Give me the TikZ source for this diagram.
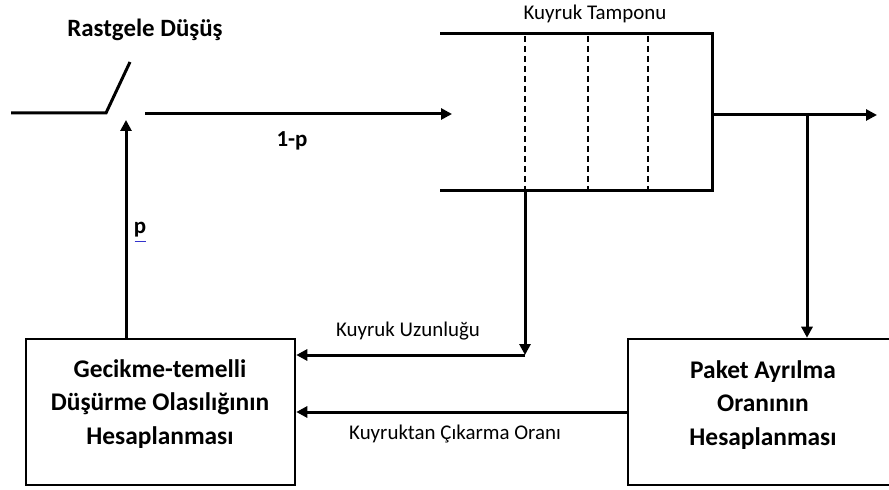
\documentclass[tikz,border=0pt]{standalone}
\usepackage{fontspec}
\setmainfont{Carlito}
\usetikzlibrary{arrows.meta}
\begin{document}
\begin{tikzpicture}[x=1bp,y=-1bp,
  wire/.style={line width=3bp},
  arr/.style={wire,-{Triangle[length=11bp,width=11bp]}},
  slot/.style={line width=1.9bp,dash pattern=on 6bp off 4bp},
  box/.style={draw,line width=2.5bp,minimum width=269bp,minimum height=146bp,inner sep=0},
  btext/.style={font=\fontsize{25.5}{33.5}\selectfont\bfseries,align=center},
  lbl/.style={font=\fontsize{21}{24}\selectfont}]
\useasboundingbox (0,0) rectangle (889,490);

% titles and labels
\node[font=\fontsize{25}{28}\selectfont\bfseries] (title) at (145,30) {Rastgele Düşüş};
\node[lbl] (buf) at (595,14) {Kuyruk Tamponu};
\node[font=\fontsize{23}{26}\selectfont\bfseries] (onep) at (292,141) {1-p};
\node[font=\fontsize{23}{26}\selectfont\bfseries] (plbl) at (140,230) {p};
\draw[blue!60!gray,line width=0.9bp] (134.5,241.5) -- (145.5,241.5);
\node[lbl] (qlen) at (408,331) {Kuyruk Uzunluğu};
\node[lbl] (deq) at (455,434) {Kuyruktan Çıkarma Oranı};

% computation boxes
\node[box] (lbox) at (160.5,412) {};
\node[btext] (ltext) at (160,404) {Gecikme-temelli\\Düşürme Olasılığının\\Hesaplanması};
\node[box,minimum width=272bp] (rbox) at (764,412) {};
\node[btext] (rtext) at (763,405) {Paket Ayrılma\\Oranının\\Hesaplanması};

% random-drop switch
\coordinate (sw0) at (11,113);
\coordinate (sw1) at (106,113);
\coordinate (sw2) at (130,62);
\coordinate (sw3) at (145,114);
\coordinate (qin) at (452,114);
\draw[wire] (sw0) -- (sw1) -- (sw2);
\draw[arr] (sw3) -- (qin);

% queue buffer
\coordinate (qtl) at (441,34);
\coordinate (qtr) at (712,34);
\coordinate (qbr) at (712,191);
\coordinate (qbl) at (441,191);
\draw[wire,line cap=rect] (qtl) -- (qtr) -- (qbr) -- (qbl);
\foreach \x in {525,588,648}
  \draw[slot] (\x,36) -- (\x,189);

% output and branch to departure-rate box
\coordinate (qout) at (712,115);
\coordinate (out) at (877,115);
\coordinate (br) at (807,115);
\draw[arr] (qout) -- (out);
\draw[arr] (br) -- (br |- rbox.north);

% queue length feedback
\coordinate (ql0) at (525,191);
\coordinate (ql1) at (525,355);
\draw[arr] (ql0) -- (ql1);
\draw[arr] (ql1) -- (ql1 -| lbox.east);

% dequeue rate feedback
\draw[arr] (rbox.west |- 0,412) -- (lbox.east |- 0,412);

% drop probability to switch
\coordinate (pt) at (126,120);
\draw[arr] (lbox.north -| pt) -- (pt);
\end{tikzpicture}
\end{document}
